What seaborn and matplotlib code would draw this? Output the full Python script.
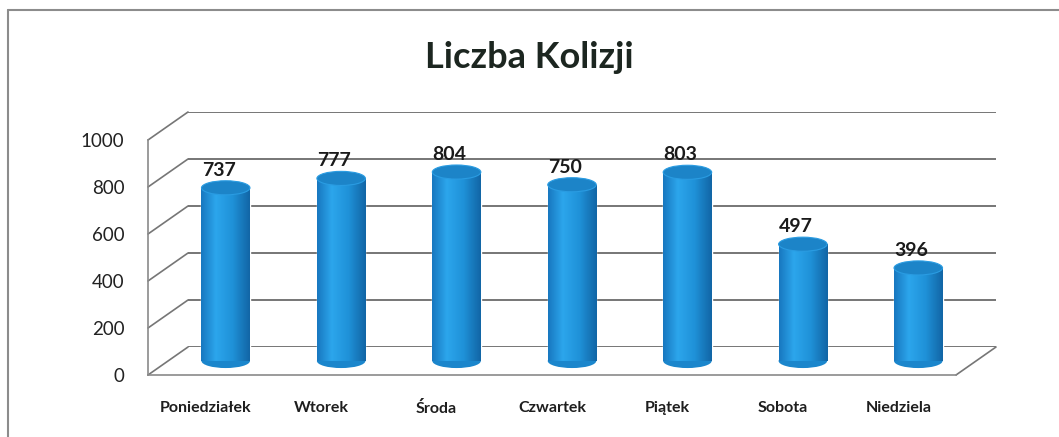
import numpy as np
import pandas as pd
import matplotlib
matplotlib.use("Agg")
import matplotlib.pyplot as plt
import seaborn as sns
from matplotlib.colors import LinearSegmentedColormap
from matplotlib.patches import Ellipse, ConnectionPatch
from matplotlib.lines import Line2D

# data
days = ["Poniedziałek", "Wtorek", "Środa", "Czwartek", "Piątek", "Sobota", "Niedziela"]
collisions = [737, 777, 804, 750, 803, 497, 396]
y_ticks = [0, 200, 400, 600, 800, 1000]
title = "Liczba Kolizji"

df = pd.DataFrame({"day": days, "count": collisions})

sns.set_style("white")
plt.rcParams["font.family"] = ["Lato", "DejaVu Sans"]

W, H = 1059, 437
fig = plt.figure(figsize=(W / 100, H / 100), dpi=100)

# plot planes (front axis, mid-depth bars, back wall) in pixels
pw, ph = 808, 235
front = fig.add_axes([148 / W, (H - 375) / H, pw / W, ph / H])
back = fig.add_axes([188 / W, (H - 347) / H, pw / W, ph / H])
mid = fig.add_axes([168 / W, (H - 361) / H, pw / W, ph / H])
back.set_zorder(0)
front.set_zorder(1)
mid.set_zorder(2)

xlim = (-0.5, len(days) - 0.5)
for a in (front, back, mid):
    a.set_xlim(*xlim)
    a.set_ylim(0, 1000)
    a.patch.set_alpha(0)

grid_col = "#767676"

# back wall gridlines
for s in back.spines.values():
    s.set_visible(False)
back.set_xticks([])
back.set_yticks([])
for v in y_ticks:
    back.axhline(v, color=grid_col, lw=1.4)

# front axis
for name, s in front.spines.items():
    s.set_visible(name in ("left", "bottom"))
    s.set_color("#8a8a8a")
    s.set_linewidth(1.2)
front.set_yticks(y_ticks)
front.set_yticklabels([str(v) for v in y_ticks], fontsize=13.5, color="#222222")
front.set_xticks(range(len(days)))
front.set_xticklabels(days, fontsize=11.5, fontweight="bold", color="#1e1e1e")
front.set_xticks(np.arange(-0.5, len(days)), minor=True)
front.tick_params(axis="y", length=7, width=1.2, color="#8a8a8a", pad=10)
front.tick_params(axis="x", which="major", length=0, pad=19)
front.tick_params(axis="x", which="minor", length=6, width=1.2, color="#8a8a8a")

# side wall / floor diagonals
for v in y_ticks:
    fig.add_artist(ConnectionPatch(xyA=(xlim[0], v), coordsA=front.transData,
                                   xyB=(xlim[0], v), coordsB=back.transData,
                                   color=grid_col, lw=1.2))
fig.add_artist(ConnectionPatch(xyA=(xlim[1], 0), coordsA=front.transData,
                               xyB=(xlim[1], 0), coordsB=back.transData,
                               color=grid_col, lw=1.2))

# cylinders
bar_w = 0.42
sns.barplot(data=df, x="day", y="count", color="#1e92da", width=bar_w, ax=mid)
mid.axis("off")

cyl = LinearSegmentedColormap.from_list(
    "cyl", [(0, "#1878c0"), (0.3, "#2ca6ec"), (0.65, "#1f91d8"), (1, "#1266a6")])
grad = np.linspace(0, 1, 64).reshape(1, -1)
ell_h = 60  # ellipse height in data units (~14 px)
for p, val in zip(list(mid.patches), collisions):
    x0, w = p.get_x(), p.get_width()
    xc = x0 + w / 2
    bottom = Ellipse((xc, 0), w, ell_h, facecolor="#1b86cc", edgecolor="none",
                     zorder=2, clip_on=False)
    mid.add_patch(bottom)
    im = mid.imshow(grad, cmap=cyl, extent=(x0, x0 + w, 0, val), aspect="auto",
                    zorder=3, interpolation="bilinear")
    im.set_clip_path(p)
    top = Ellipse((xc, val), w, ell_h, facecolor="#1c84c8", edgecolor="#2a9ce2",
                  lw=0.8, zorder=4, clip_on=False)
    mid.add_patch(top)
    mid.annotate(str(val), (xc, val), xytext=(-7, 9), textcoords="offset pixels",
                 ha="center", va="bottom", fontsize=14, fontweight="bold",
                 color="#1a1a1a", zorder=5, annotation_clip=False)
mid.set_xlim(*xlim)
mid.set_ylim(0, 1000)

# title
fig.text(0.5, 1 - 57 / H, title, ha="center", va="center", fontsize=26,
         fontweight="bold", color="#1c2620")

# chart border (top and left visible)
fig.add_artist(Line2D([8 / W, 8 / W], [0, 1 - 10 / H], color="#8c8c8c", lw=1.5))
fig.add_artist(Line2D([8 / W, 1], [1 - 10 / H, 1 - 10 / H], color="#8c8c8c", lw=1.5))

fig.savefig("out.png", dpi=100)
